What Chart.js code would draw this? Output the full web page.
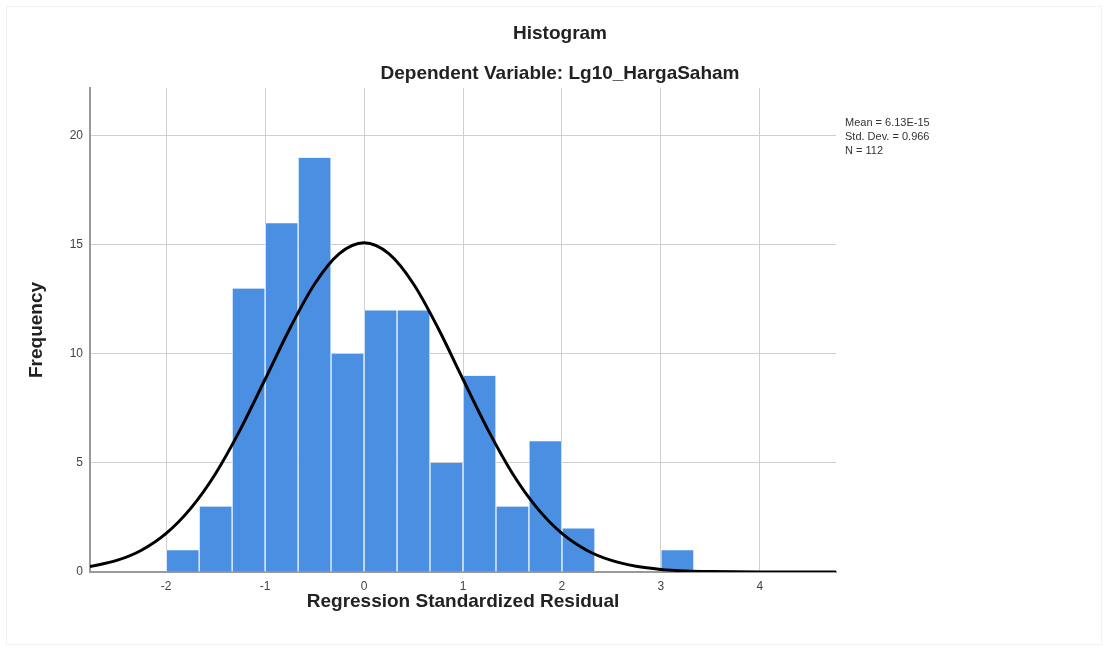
<!DOCTYPE html>
<html>
<head>
<meta charset="utf-8">
<script src="https://cdn.jsdelivr.net/npm/chart.js@4"></script>
<style>
  html, body { margin: 0; padding: 0; background: #fff; }
  #wrap { width: 1108px; height: 651px; }
</style>
</head>
<body>
<div id="wrap"><canvas id="histChart" width="1108" height="651"></canvas></div>
<script>
// bin centres (bin width = 1/3) and counts
const binCenters = [-1.833, -1.5, -1.167, -0.833, -0.5, -0.167, 0.167, 0.5, 0.833, 1.167, 1.5, 1.833, 2.167, 2.5, 2.833, 3.167];
const frequencies = [1, 3, 13, 16, 19, 10, 12, 12, 5, 9, 3, 6, 2, 0, 0, 1];

// normal curve, points
const curveX = [-2.77, -2.5, -2.25, -2, -1.75, -1.5, -1.25, -1, -0.75, -0.5, -0.25, 0, 0.25, 0.5, 0.75, 1, 1.25, 1.5, 1.75, 2, 2.25, 2.5, 2.75, 3, 3.25, 3.5, 4, 4.77];
const curveY = [0.25, 0.53, 1.0, 1.77, 2.93, 4.52, 6.54, 8.84, 11.17, 13.21, 14.6, 15.1, 14.6, 13.21, 11.17, 8.84, 6.54, 4.52, 2.93, 1.77, 1.0, 0.53, 0.26, 0.12, 0.05, 0.02, 0, 0];

const xTicks = [-2, -1, 0, 1, 2, 3, 4];
const yTicks = [0, 5, 10, 15, 20];
const statsLines = ['Mean = 6.13E-15', 'Std. Dev. = 0.966', 'N = 112'];

const FONT = "'Liberation Sans', Arial, sans-serif";

const statsPlugin = {
    id: 'statsText',
    beforeDraw(chart) {
        const ctx = chart.ctx;
        ctx.save();
        ctx.strokeStyle = '#f2f2f2';
        ctx.lineWidth = 1;
        ctx.strokeRect(6.5, 6.5, 1095, 638);
        ctx.restore();
    },
    afterDraw(chart) {
        const ctx = chart.ctx;
        ctx.save();
        ctx.font = '11px ' + FONT;
        ctx.fillStyle = '#333';
        ctx.textBaseline = 'middle';
        statsLines.forEach((line, i) => {
            ctx.fillText(line, 845, 123 + i * 14);
        });
        ctx.restore();
    }
};

const ctx = document.getElementById('histChart');
new Chart(ctx, {
    type: 'bar',
    data: {
        datasets: [
            {
                type: 'line',
                data: curveX.map((x, i) => ({ x: x, y: curveY[i] })),
                borderColor: '#000',
                borderWidth: 3,
                pointRadius: 0,
                cubicInterpolationMode: 'monotone',
                fill: false,
                order: 0
            },
            {
                type: 'bar',
                data: binCenters.map((x, i) => ({ x: x, y: frequencies[i] })),
                backgroundColor: '#4a8fe2',
                borderColor: 'rgba(235,244,255,0.9)',
                borderWidth: { left: 1, right: 1, top: 0, bottom: 0 },
                borderSkipped: false,
                barPercentage: 1,
                categoryPercentage: 1,
                order: 1
            }
        ]
    },
    options: {
        responsive: false,
        animation: false,
        layout: { padding: { left: 12, right: 0, top: 0, bottom: 0 } },
        plugins: {
            legend: { display: false },
            tooltip: { enabled: false },
            title: {
                display: true,
                text: 'Histogram',
                color: '#222',
                font: { family: FONT, size: 19, weight: 'bold' },
                padding: { top: 22.6, bottom: 0 }
            },
            subtitle: {
                display: true,
                text: 'Dependent Variable: Lg10_HargaSaham',
                color: '#222',
                font: { family: FONT, size: 19, weight: 'bold' },
                padding: { top: 17, bottom: 2.8 }
            }
        },
        scales: {
            x: {
                type: 'linear',
                min: -2.77,
                max: 4.77,
                offset: false,
                afterBuildTicks: (scale) => { scale.ticks = xTicks.map(v => ({ value: v })); },
                afterFit: (scale) => { scale.height = 79; },
                grid: { color: '#cfcfcf', lineWidth: 1, drawTicks: false, offset: false },
                border: { color: '#9a9a9a', width: 2 },
                ticks: { color: '#444', padding: 7, font: { family: FONT, size: 12 } },
                title: {
                    display: true,
                    text: 'Regression Standardized Residual',
                    color: '#222',
                    font: { family: FONT, size: 19, weight: 'bold' },
                    padding: { top: 0, bottom: 37.6 }
                }
            },
            y: {
                min: 0,
                max: 22.2,
                afterBuildTicks: (scale) => { scale.ticks = yTicks.map(v => ({ value: v })); },
                afterFit: (scale) => { scale.width = 78; },
                grid: { color: '#cfcfcf', lineWidth: 1, drawTicks: false },
                border: { color: '#9a9a9a', width: 2 },
                ticks: { color: '#444', padding: 7, font: { family: FONT, size: 12 } },
                title: {
                    display: true,
                    text: 'Frequency',
                    color: '#222',
                    font: { family: FONT, size: 19, weight: 'bold' },
                    padding: { top: 13.6, bottom: 0 }
                }
            },
            yRight: {
                position: 'right',
                display: true,
                afterFit: (scale) => { scale.width = 272; },
                grid: { display: false, drawOnChartArea: false },
                border: { display: false },
                ticks: { display: false }
            }
        }
    },
    plugins: [statsPlugin]
});
</script>
</body>
</html>
